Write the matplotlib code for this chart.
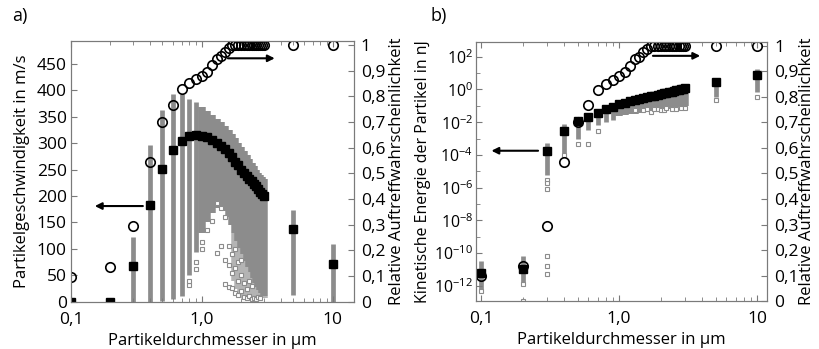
import math
import matplotlib
matplotlib.use('Agg')
import matplotlib.pyplot as plt
from matplotlib.ticker import FixedLocator, FuncFormatter, NullFormatter

plt.rcParams['font.family'] = ['Open Sans', 'DejaVu Sans']
plt.rcParams['mathtext.fontset'] = 'custom'
plt.rcParams['mathtext.rm'] = 'Open Sans'
plt.rcParams['axes.unicode_minus'] = False

GREY = '#8c8c8c'
LIGHT = '#b4b4b4'
SPINE = '#7a7a7a'

# particle diameters in um
diam = [0.1, 0.2, 0.3, 0.4, 0.5, 0.6, 0.7, 0.8, 0.9, 1.0, 1.1, 1.2, 1.3, 1.4, 1.5,
        1.6, 1.7, 1.8, 1.9, 2.0, 2.1, 2.2, 2.3, 2.4, 2.5, 2.6, 2.7, 2.8, 2.9, 3.0, 5.0, 10.0]

# relative impact probability (open circles, right axis)
prob = [0.098, 0.137, 0.296, 0.545, 0.70, 0.767, 0.828, 0.851, 0.867, 0.88, 0.896, 0.922,
        0.946, 0.956, 0.974, 0.988, 1.0, 1.0, 1.0, 1.0, 1.0, 1.0, 1.0, 1.0, 1.0, 1.0, 1.0,
        1.0, 1.0, 1.0, 1.0, 1.0]

# a) particle velocity in m/s: mean, spread of the single particles
v_mean = [0, 0, 68, 183, 251, 287, 304, 314, 315, 314, 311, 306, 301, 295, 288, 281, 273,
          265, 258, 250, 244, 238, 233, 228, 223, 218, 213, 208, 204, 200, 137, 72]
v_hi = [0, 0, 123, 297, 362, 392, 392, 383, 378, 368, 360, 353, 346, 339, 332, 325, 317,
        309, 301, 293, 285, 277, 270, 263, 256, 250, 244, 239, 235, 232, 173, 110]
v_lo = [0, 0, 0, 0, 2, 5, 12, 50, 95, 130, 150, 168, 178, 180, 172, 160, 145, 130, 115,
        102, 90, 78, 66, 56, 46, 36, 28, 22, 16, 12, 13, 0]
# lower end of the loosely packed particles below the dense band
v_sparse_lo = [0, 0, 0, 0, 2, 5, 12, 50, 95, 130, 150, 168, 178, 180, 172, 160, 145, 40,
               25, 15, 8, 8, 8, 8, 8, 8, 8, 8, 8, 8, 13, 0]
# single particles outside the bands
v_out_d = [0.8, 0.8, 0.9, 0.9, 1.0, 1.0, 1.1, 1.2, 1.3, 1.3, 1.4, 1.4, 1.5, 1.5, 1.5, 1.6,
           1.6, 1.6, 1.7, 1.7, 1.7, 1.8, 1.8, 1.8, 1.9, 1.9, 1.9, 2.0, 2.0, 2.0, 2.1, 2.1,
           2.2, 2.2, 2.3, 2.3, 2.4, 2.4, 2.5, 2.6, 2.7, 2.8]
v_out = [32, 40, 76, 62, 114, 100, 135, 152, 92, 187, 106, 177, 79, 34, 161, 106, 70, 29,
         54, 26, 90, 64, 16, 100, 13, 40, 75, 20, 50, 80, 10, 35, 8, 25, 12, 40, 6, 30, 8,
         5, 10, 8]

# b) kinetic energy of the particles in nJ
e_mean = [6e-12, 1.1e-11, 1.8e-4, 3.0e-3, 1.2e-2, 2.2e-2, 3.8e-2, 6.0e-2, 8.9e-2, 0.129,
          0.155, 0.186, 0.219, 0.251, 0.288, 0.331, 0.372, 0.417, 0.468, 0.513, 0.575,
          0.631, 0.692, 0.741, 0.813, 0.871, 0.955, 1.02, 1.10, 1.17, 3.0, 7.7]
e_hi = [3.2e-11, 6.3e-11, 5.6e-4, 7.9e-3, 2.0e-2, 3.5e-2, 5.6e-2, 8.9e-2, 0.126, 0.178,
        0.22, 0.27, 0.32, 0.37, 0.43, 0.49, 0.55, 0.62, 0.69, 0.76, 0.85, 0.94, 1.03,
        1.11, 1.22, 1.31, 1.43, 1.53, 1.65, 1.8, 4.8, 17.0]
e_lo = [5.6e-13, 1.4e-12, 6.3e-6, 1.3e-4, 1.0e-3, 3.2e-3, 6.3e-3, 1.0e-2, 1.4e-2, 0.024,
        0.027, 0.030, 0.033, 0.036, 0.040, 0.043, 0.047, 0.050, 0.053, 0.056, 0.060,
        0.064, 0.068, 0.072, 0.076, 0.080, 0.085, 0.090, 0.095, 0.10, 0.35, 0.74]
e_out_d = [0.1, 0.2, 0.2, 0.3, 0.3, 0.3, 0.3, 0.3, 0.3, 0.4, 0.5, 0.6, 0.7, 1.3, 1.5,
           1.6, 1.7, 1.8, 1.9, 2.0, 2.1, 2.2, 2.4, 2.6, 2.8, 3.0, 5.0, 10.0]
e_out = [5.0e-13, 1.2e-13, 1.3e-12, 3.0e-6, 2.0e-6, 8.0e-7, 6.6e-11, 1.7e-11, 5.2e-12,
         1.0e-4, 4.5e-4, 4.5e-4, 3.0e-3, 0.055, 0.052, 0.06, 0.045, 0.06, 0.065, 0.052,
         0.058, 0.07, 0.068, 0.06, 0.075, 0.07, 0.23, 0.36]

x_ticks = [0.1, 1.0, 10.0]
x_ticklabels = ['0,1', '1,0', '10']
x_minor = [0.2, 0.3, 0.4, 0.5, 0.6, 0.7, 0.8, 0.9, 2, 3, 4, 5, 6, 7, 8, 9]
prob_ticks = [0, 0.1, 0.2, 0.3, 0.4, 0.5, 0.6, 0.7, 0.8, 0.9, 1.0]
v_ticks = [0, 50, 100, 150, 200, 250, 300, 350, 400, 450]
e_major = [1e-12, 1e-10, 1e-8, 1e-6, 1e-4, 1e-2, 1e0, 1e2]
e_minor = [1e-13, 1e-11, 1e-9, 1e-7, 1e-5, 1e-3, 1e-1, 1e1]

FS = 12.5
# columns in the dense 1.0-3.0 range overlap into one grey area
bar_w = [5.4 if 1.0 <= d <= 3.0 else 3.4 for d in diam]


def comma(x, pos):
    if abs(x - round(x)) < 1e-9:
        return '%d' % round(x)
    return ('%.1f' % x).replace('.', ',')


def style_axes(ax, ax2, right_label_x):
    for s in ax.spines.values():
        s.set_color(SPINE)
    for s in ax2.spines.values():
        s.set_color(SPINE)
    ax.set_xscale('log')
    ax.xaxis.set_major_locator(FixedLocator(x_ticks))
    ax.set_xticklabels(x_ticklabels)
    ax.xaxis.set_minor_locator(FixedLocator(x_minor))
    ax.xaxis.set_minor_formatter(NullFormatter())
    ax.tick_params(which='both', direction='in', top=True, color=SPINE, labelsize=FS)
    ax.tick_params(which='major', length=4)
    ax.tick_params(which='minor', length=3)
    ax.tick_params(axis='x', pad=7)
    ax.tick_params(axis='y', pad=3)
    ax2.set_ylim(0, 1.016)
    ax2.yaxis.set_major_locator(FixedLocator(prob_ticks))
    ax2.yaxis.set_major_formatter(FuncFormatter(comma))
    ax2.tick_params(direction='in', color=SPINE, labelsize=FS, length=4, pad=5)
    ax2.set_ylabel('Relative Auftreffwahrscheinlichkeit', fontsize=12)
    ax2.yaxis.set_label_coords(right_label_x, 0.5)
    ax.set_xlabel('Partikeldurchmesser in µm', fontsize=12, labelpad=4)


def arrow(ax, start, end):
    ax.annotate('', xy=end, xytext=start,
                arrowprops=dict(arrowstyle='-|>', color='black', lw=1.5,
                                mutation_scale=10, shrinkA=0, shrinkB=0))


fig = plt.figure(figsize=(8.2, 3.49), dpi=100)

# ---- a) velocity
ax = fig.add_axes([0.0866, 0.135, 0.345, 0.748])
ax.vlines(diam, v_sparse_lo, v_lo, colors=LIGHT, linewidth=bar_w, zorder=1)
ax.vlines(diam, v_lo, v_hi, colors=GREY, linewidth=bar_w, zorder=1)
ax.plot(v_out_d, v_out, 's', ms=3.4, mfc='white', mec=GREY, mew=0.8, zorder=2)
ax.plot(diam, v_mean, 's', ms=5.5, color='black', zorder=3)
ax.set_xlim(0.1, 14.5)
ax.set_ylim(0, 493)
ax.yaxis.set_major_locator(FixedLocator(v_ticks))
ax.set_ylabel('Partikelgeschwindigkeit in m/s', fontsize=12)
ax.yaxis.set_label_coords(-0.145, 0.5)
arrow(ax, (0.354, 181), (0.152, 181))
ax2 = ax.twinx()
ax2.plot(diam, prob, 'o', ms=6.8, mfc='none', mec='black', mew=1.2)
arrow(ax2, (1.58, 0.948), (3.6, 0.948))
style_axes(ax, ax2, 1.124)
ax2.set_xlim(0.1, 14.5)

# ---- b) kinetic energy
bx = fig.add_axes([0.5805, 0.137, 0.3549, 0.744])
bx.vlines(diam, e_lo, e_hi, colors=GREY, linewidth=bar_w, zorder=1)
bx.plot(e_out_d, e_out, 's', ms=3.4, mfc='white', mec=GREY, mew=0.8, zorder=2)
bx.plot(diam, e_mean, 's', ms=5.5, color='black', zorder=3)
bx.set_yscale('log')
bx.set_xlim(0.092, 11.8)
bx.set_ylim(1.15e-13, 850)
bx.yaxis.set_major_locator(FixedLocator(e_major))
bx.yaxis.set_minor_locator(FixedLocator(e_minor))
bx.yaxis.set_minor_formatter(NullFormatter())
bx.yaxis.set_major_formatter(FuncFormatter(
    lambda y, pos: r'$\mathregular{10^{%d}}$' % round(math.log10(y))))
bx2 = bx.twinx()
style_axes(bx, bx2, 1.110)
bx.tick_params(axis='y', labelsize=11.5, pad=2)
bx.set_ylabel('Kinetische Energie der Partikel in nJ', fontsize=11.5)
bx.yaxis.set_label_coords(-0.155, 0.5)
arrow(bx, (0.259, 1.8e-4), (0.119, 1.8e-4))
bx2.plot(diam, prob, 'o', ms=6.8, mfc='none', mec='black', mew=1.2)
arrow(bx2, (1.76, 0.96), (3.87, 0.96))
bx2.set_xlim(0.092, 11.8)

fig.text(0.015, 0.955, 'a)', fontsize=13, va='center')
fig.text(0.525, 0.955, 'b)', fontsize=13, va='center')

fig.savefig('out.png', dpi=100)
